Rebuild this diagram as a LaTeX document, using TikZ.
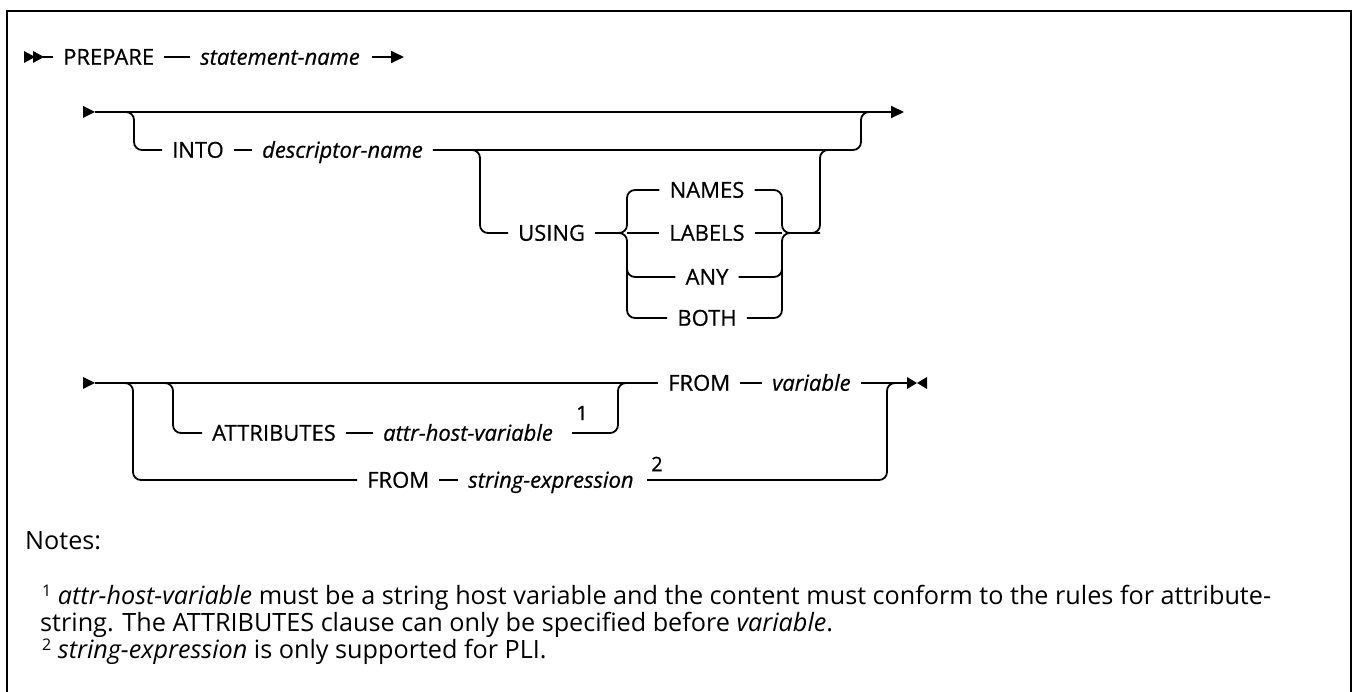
\documentclass[tikz,border=0pt]{standalone}
\usepackage{fontspec}
\setmainfont{Open Sans}
\newfontfamily\diagfont{Open Sans}[FakeBold=0.6]
\usetikzlibrary{arrows.meta,calc}
\newcommand{\fnmark}[1]{\raisebox{7.5pt}{\fontsize{16}{16}\selectfont #1}}
\begin{document}
\begin{tikzpicture}[x=1pt,y=-1pt,
  ln/.style={line width=1.8pt},
  rc/.style={rounded corners=8pt},
  kw/.style={font=\diagfont\fontsize{22}{26}\selectfont, inner xsep=10pt, inner ysep=0pt, text height=15.5pt, text depth=0pt, anchor=west},
  var/.style={kw, font=\diagfont\fontsize{22}{26}\selectfont\itshape},
  ch/.style={kw, anchor=center},
  sup/.style={font=\diagfont\fontsize{20}{24}\selectfont, inner sep=0pt},
  note/.style={font=\fontsize{25.2}{30}\selectfont, inner sep=0pt, anchor=base west},
  arr/.style={ln,-{Triangle[length=13pt,width=12pt]}}
]
\useasboundingbox (0,0) rectangle (1353,692);
\clip (0,0) rectangle (1353,692);
% frame
\draw[line width=2.5pt] (7,700) -- (7,11) -- (1351,11) -- (1351,700);

% ---------- row 1
\fill (24,51) -- (35,57) -- (24,63) -- cycle;
\fill (33,51) -- (44,57) -- (33,63) -- cycle;
\coordinate (s1) at (43,57);
\node[kw] (prep) at (53,57) {PREPARE};
\node[var] (stn) at (190,57) {statement-name};
\draw[ln] (s1) -- (prep.west);
\draw[ln] (prep.east) -- (stn.west);
\coordinate (a1s) at (372,57);
\coordinate (a1e) at (404,57);
\draw[arr] (a1s) -- (a1e);

% ---------- row 2
\fill (83,106) -- (95,112) -- (83,118) -- cycle;
\coordinate (s2) at (95,112);
\coordinate (e2) at (904,112);
\draw[arr] (s2) -- (e2);
\coordinate (b2) at (134,112);
\node[kw] (into) at (162,150) {INTO};
\node[var] (desc) at (252,150) {descriptor-name};
\draw[ln,rc] ($(b2)-(10,0)$) -- (b2) |- (into.west);
\draw[ln] (into.east) -- (desc.west);
\coordinate (m2) at (861,112);
\draw[ln,rc] (desc.east) -| (m2) -- ++(10,0);

\coordinate (b2u) at (480,150);
\node[kw] (using) at (508,233) {USING};
\draw[ln,rc] ($(b2u)-(10,0)$) -- (b2u) |- (using.west);
\coordinate (gl) at (627,233);
\coordinate (gr) at (782,233);
\coordinate (gr2) at (820,233);
\coordinate (j2) at (834,150);
\node[ch] (names) at (707,190) {NAMES};
\node[ch] (labels) at (707,233) {LABELS};
\node[ch] (any) at (707,277) {ANY};
\node[ch] (both) at (707,318) {BOTH};
\draw[ln,rc] (using.east) -- (gl) |- (names.west);
\draw[ln,rc] (using.east) -- (gl) |- (both.west);
\draw[ln] (gl) -- (labels.west);
\draw[ln,rc] ($(gl)+(0,10)$) |- (any.west);
\draw[ln,rc] (names.east) -| (gr) -- (gr2) |- (j2);
\draw[ln,rc] (both.east) -| (gr) -- (gr2);
\draw[ln,rc] (any.east) -| ($(gr)+(0,10)$);
\draw[ln] (labels.east) -- (gr);

% ---------- row 3
\fill (83,377) -- (95,383) -- (83,389) -- cycle;
\coordinate (s3) at (95,383);
\node[kw] (from1) at (658,383) {FROM};
\node[var] (var1) at (762,383) {variable};
\draw[ln] (s3) -- (from1.west);
\draw[ln] (from1.east) -- (var1.west);
\coordinate (e3) at (907,383);
\draw[ln] (var1.east) -- (e3);
\fill (907,377) -- (917,383) -- (907,389) -- cycle;
\fill (927,377) -- (917,383) -- (927,389) -- cycle;

\coordinate (b3a) at (173,383);
\node[kw] (attr) at (202,433) {ATTRIBUTES};
\node[var] (ahv) at (373,433) {attr-host-variable};
\draw[ln,rc] ($(b3a)-(10,0)$) -- (b3a) |- (attr.west);
\draw[ln] (attr.east) -- (ahv.west);
\node[sup] (n1) at (582,413) {1};
\coordinate (a3s) at (572,433);
\coordinate (m3) at (618,383);
\draw[ln,rc] (a3s) -| (m3) -- ++(12,0);

\coordinate (b3f) at (133,383);
\node[kw] (from2) at (357,480) {FROM};
\node[var] (sexp) at (458,480) {string-expression};
\draw[ln,rc] ($(b3f)-(10,0)$) -- (b3f) |- (from2.west);
\draw[ln] (from2.east) -- (sexp.west);
\node[sup] (n2) at (657,464) {2};
\coordinate (s3s) at (647,480);
\coordinate (m3f) at (887,383);
\draw[ln,rc] (s3s) -| (m3f) -- ++(10,0);

% ---------- notes
\node[note] (notes) at (25,550) {Notes:};
\node[note] (nt1) at (42,604) {\fnmark{1} \textit{attr-host-variable} must be a string host variable and the content must conform to the rules for attribute-};
\node[note] (nt2) at (40,631) {string. The ATTRIBUTES clause can only be specified before \textit{variable}.};
\node[note] (nt3) at (42,658) {\fnmark{2} \textit{string-expression} is only supported for PLI.};
\end{tikzpicture}
\end{document}
